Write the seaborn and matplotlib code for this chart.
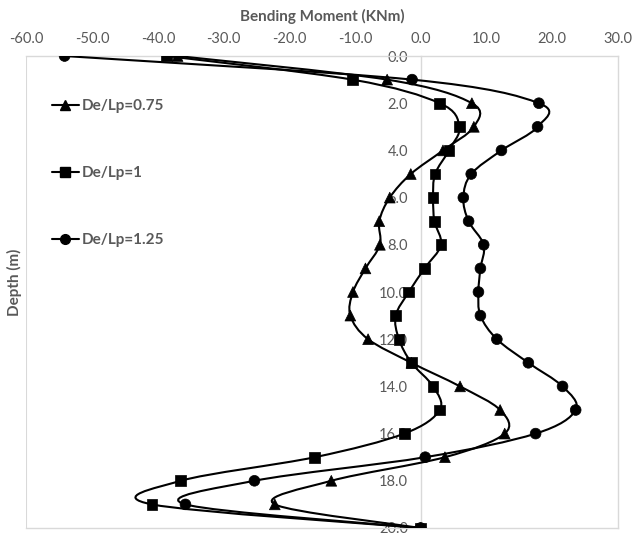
import numpy as np
import pandas as pd
import matplotlib
matplotlib.use("Agg")
import matplotlib.pyplot as plt
import seaborn as sns
from matplotlib.path import Path
from matplotlib.patches import PathPatch
from matplotlib.lines import Line2D

# ---- data ----
depth = [0, 1, 2, 3, 4, 5, 6, 7, 8, 9, 10, 11, 12, 13, 14, 15, 16, 17, 18, 19, 20]
moment_075 = [-37.0, -5.1, 7.8, 8.1, 3.4, -1.5, -4.7, -6.3, -6.2, -8.4, -10.3,
              -10.7, -8.0, -1.4, 6.0, 12.1, 12.8, 3.7, -13.6, -22.2, 0.0]
moment_100 = [-38.7, -10.4, 2.9, 5.9, 4.3, 2.2, 1.9, 2.1, 3.1, 0.6, -1.8,
              -3.8, -3.3, -1.4, 1.9, 2.9, -2.5, -16.1, -36.5, -40.9, 0.0]
moment_125 = [-54.2, -1.3, 18.0, 17.8, 12.3, 7.7, 6.5, 7.3, 9.6, 9.1, 8.8,
              9.1, 11.6, 16.4, 21.6, 23.6, 17.5, 0.7, -25.3, -35.8, 0.0]
series_labels = ["De/Lp=0.75", "De/Lp=1", "De/Lp=1.25"]
x_ticks = [-60, -50, -40, -30, -20, -10, 0, 10, 20, 30]
y_ticks = [0, 2, 4, 6, 8, 10, 12, 14, 16, 18, 20]

series_values = [moment_075, moment_100, moment_125]
df = pd.concat([
    pd.DataFrame({"moment": vals, "depth": depth, "series": lab})
    for vals, lab in zip(series_values, series_labels)
], ignore_index=True)

GRAY = "#595959"
LIGHT = "#d9d9d9"
markers = {"De/Lp=0.75": "^", "De/Lp=1": "s", "De/Lp=1.25": "o"}

sns.set_theme(style="white")
plt.rcParams["font.family"] = ["Lato", "DejaVu Sans"]

fig = plt.figure(figsize=(6.32, 5.33), dpi=100)
ax = fig.add_axes([0.0419, 0.0094, 0.9355, 0.8855])


def smooth_path(xs, ys):
    """Excel-style smoothed line (Catmull-Rom as cubic Bezier)."""
    pts = np.column_stack([xs, ys]).astype(float)
    n = len(pts)
    verts = [pts[0]]
    codes = [Path.MOVETO]
    for i in range(n - 1):
        p0 = pts[i - 1] if i > 0 else pts[i]
        p1 = pts[i]
        p2 = pts[i + 1]
        p3 = pts[i + 2] if i + 2 < n else pts[i + 1]
        c1 = p1 + (p2 - p0) / 6.0
        c2 = p2 - (p3 - p1) / 6.0
        verts += [c1, c2, p2]
        codes += [Path.CURVE4] * 3
    return Path(verts, codes)


for lab in series_labels:
    sub = df[df["series"] == lab]
    patch = PathPatch(smooth_path(sub["moment"].values, sub["depth"].values),
                      facecolor="none", edgecolor="black", lw=1.5, zorder=3)
    ax.add_patch(patch)

sns.scatterplot(data=df, x="moment", y="depth", style="series", markers=markers,
                color="black", s=60, edgecolor="black", linewidth=0.5,
                ax=ax, legend=False, zorder=4)

ax.set_xlim(-60, 30)
ax.set_ylim(20, 0)
ax.set_xticks(x_ticks)
ax.set_xticklabels([f"{v:.1f}" for v in x_ticks])
ax.set_yticks(y_ticks)
ax.set_yticklabels([f"{v:.1f}" for v in y_ticks])

ax.xaxis.tick_top()
ax.xaxis.set_label_position("top")
ax.tick_params(axis="x", length=0, pad=7, labelsize=10.5, labelcolor=GRAY)
ax.tick_params(axis="y", length=0, pad=9, labelsize=10.5, labelcolor=GRAY)

# y-axis crosses at x = 0, plot area border in light gray
for s in ["top", "right", "bottom", "left"]:
    ax.spines[s].set_color(LIGHT)
    ax.spines[s].set_linewidth(1.0)
ax.spines["left"].set_position(("data", 0))
ax.axvline(-60, color=LIGHT, lw=1.5, zorder=0)

ax.set_xlabel("Bending Moment (KNm)", fontsize=11, fontweight="bold", color=GRAY, labelpad=8)
ax.set_ylabel("Depth (m)", fontsize=11, fontweight="bold", color=GRAY)
ax.yaxis.set_label_coords(-0.008, 0.52)

handles = [Line2D([], [], color="black", lw=1.5, marker=markers[lab], markersize=7)
           for lab in series_labels]
leg = ax.legend(handles, series_labels, loc="upper left", bbox_to_anchor=(0.043, 0.908),
                frameon=False, handlelength=1.75, handletextpad=0.2, labelspacing=3.45,
                borderpad=0, borderaxespad=0,
                prop={"size": 11, "weight": "bold", "family": ["Lato", "DejaVu Sans"]})
for t in leg.get_texts():
    t.set_color(GRAY)

fig.savefig("out.png", dpi=100)
